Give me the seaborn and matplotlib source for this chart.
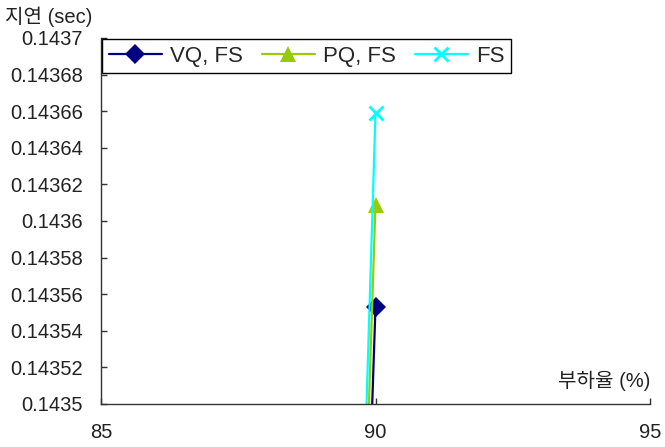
import numpy as np
import pandas as pd
import matplotlib
matplotlib.use("Agg")
import matplotlib.pyplot as plt
from matplotlib.ticker import FuncFormatter, MultipleLocator
import seaborn as sns

# data (earlier point lies below the visible range)
load = [80, 90]
vq_fs = [0.13470, 0.143553]
pq_fs = [0.13452, 0.143609]
fs = [0.13393, 0.143659]
series_names = ["VQ, FS", "PQ, FS", "FS"]

sns.set_style("ticks")
plt.rcParams['font.family'] = ['Liberation Sans', 'Noto Sans CJK KR']
plt.rcParams['font.size'] = 14.5

fig = plt.figure(figsize=(6.65, 4.47), dpi=100)
ax = fig.add_axes([101/665, 1 - 404/447, 549/665, 366/447])

styles = [
    (vq_fs, "#000080", "D", 10, 0),
    (pq_fs, "#99CC00", "^", 12, 0),
    (fs, "#00FFFF", "x", 10.5, 2),
]
for name, (vals, col, mk, ms, mew) in zip(series_names, styles):
    sns.lineplot(x=load, y=vals, color=col, marker=mk, markersize=ms,
                 markeredgewidth=mew, markeredgecolor=col, linewidth=1.6,
                 label=name, ax=ax)

ax.set_xlim(85, 95)
ax.set_ylim(0.1435, 0.1437)
ax.set_xticks([85, 90, 95])
ax.yaxis.set_major_locator(MultipleLocator(0.00002))
ax.yaxis.set_major_formatter(FuncFormatter(lambda v, p: f"{v:.5f}".rstrip("0")))
ax.tick_params(direction="in", length=4, width=1, colors="#333333",
               labelcolor="#222222")
ax.tick_params(axis="x", pad=14)
ax.tick_params(axis="y", pad=13)
for s in ["top", "right"]:
    ax.spines[s].set_visible(False)
for s in ["left", "bottom"]:
    ax.spines[s].set_color("#333333")
    ax.spines[s].set_linewidth(1)
ax.set_xlabel("")
ax.set_ylabel("")

leg = ax.legend(loc="upper left", ncol=3, frameon=True, fancybox=False,
                fontsize=16, borderaxespad=0.05, handlelength=2.4,
                columnspacing=0.85, handletextpad=0.35, borderpad=0.3)
leg.get_frame().set_edgecolor("black")
leg.get_frame().set_linewidth(1)
leg.get_frame().set_alpha(1)

fig.text(5/665, 1 - 17/447, "지연 (sec)", ha="left", va="center", color="#222222")
fig.text(650/665, 1 - 381/447, "부하율 (%)", ha="right", va="center", color="#222222")

fig.savefig("out.png", dpi=100)
